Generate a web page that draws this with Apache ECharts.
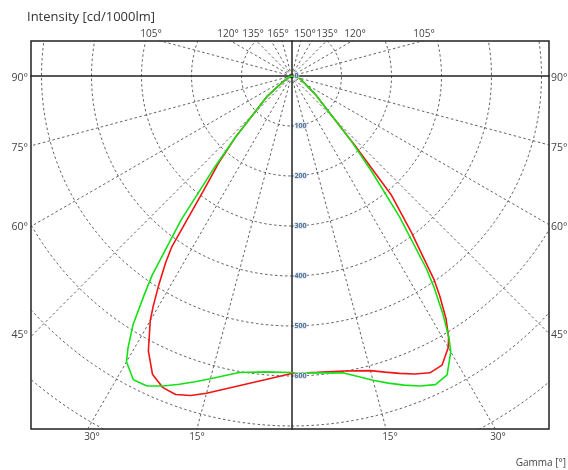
<!DOCTYPE html>
<html><head><meta charset="utf-8">
<script src="https://cdn.jsdelivr.net/npm/echarts@6/dist/echarts.min.js"></script>
<style>html,body{margin:0;padding:0;background:#fff}#c{width:568px;height:470px}</style>
</head><body><div id="c"></div>
<script>
// ---- data (gamma in degrees, intensity in cd/1000lm) ----
const gammaDeg   = [0, 5, 10, 15, 17.5, 20, 22.5, 25, 27.5, 30, 31, 32.5, 34, 35, 37.5, 40, 42.5, 45, 50, 52.5, 55, 60, 70, 80, 90];
const redLeft    = [595, 610, 630, 657, 670, 678, 674, 658, 620, 565, 537, 493, 450, 418, 290, 226, 166, 107, 65, 35, 20, 10, 5, 2, 0];
const redRight   = [595, 595, 599, 610, 621, 633, 645, 655, 652, 627, 610, 575, 530, 497, 393, 310, 185, 119, 72, 60, 45, 32, 20, 10, 0];
const greenLeft  = [593, 594, 602, 627, 641, 656, 671, 684, 685, 660, 635, 590, 525, 485, 362, 243, 166, 107, 65, 35, 20, 10, 5, 2, 0];
const greenRight = [593, 596, 603, 630, 644, 658, 671, 681, 674, 637, 612, 563, 510, 470, 355, 250, 178, 119, 72, 60, 45, 32, 20, 10, 0];

const ringValues   = [100, 200, 300, 400, 500, 600, 700, 800];
const ringLabelVal = [0, 100, 200, 300, 400, 500, 600];
const spokeStepDeg = 15;
const topLabels    = ['105°', '120°', '135°', '165°', '150°', '135°', '120°', '105°'];
const sideLabels   = ['90°', '75°', '60°', '45°'];
const bottomLabels = ['30°', '15°', '15°', '30°'];
const titleText    = 'Intensity [cd/1000lm]';
const xAxisName    = 'Gamma [°]';

// ---- layout (pixels) ----
const topLabelX = [151, 228, 253, 278, 305, 327, 355, 424];
const topLabelY = 34;
const sideLabelY = [78, 148, 227, 335];
const bottomLabelX = [92, 197, 390, 498];
const bottomLabelY = 437;

const FONT = '"Open Sans", "Noto Sans", sans-serif';
const rad = d => d * Math.PI / 180;

function curve(left, right) {
  const pts = [];
  for (let i = gammaDeg.length - 1; i >= 0; i--) {
    const g = rad(gammaDeg[i]);
    pts.push([-left[i] * Math.sin(g), -left[i] * Math.cos(g)]);
  }
  for (let i = 0; i < gammaDeg.length; i++) {
    const g = rad(gammaDeg[i]);
    pts.push([right[i] * Math.sin(g), -right[i] * Math.cos(g)]);
  }
  return pts;
}

const gridStyle = { color: '#3a3a3a', width: 0.8, type: [2.5, 2.5] };
const series = [];

ringValues.forEach(r => {
  const pts = [];
  for (let a = 0; a <= 360; a += 2) pts.push([r * Math.sin(rad(a)), -r * Math.cos(rad(a))]);
  series.push({ type: 'line', data: pts, symbol: 'none', silent: true, clip: true,
    lineStyle: gridStyle, z: 1 });
});
for (let a = 0; a < 360; a += spokeStepDeg) {
  if (a % 90 === 0) continue;
  const L = 1500;
  series.push({ type: 'line', data: [[0, 0], [L * Math.sin(rad(a)), -L * Math.cos(rad(a))]],
    symbol: 'none', silent: true, clip: true, lineStyle: gridStyle, z: 1 });
}

series.push({ type: 'line', name: 'red', data: curve(redLeft, redRight), symbol: 'none',
  clip: true, lineStyle: { color: '#f21414', width: 1.6 }, z: 5 });
series.push({ type: 'line', name: 'green', data: curve(greenLeft, greenRight), symbol: 'none',
  clip: true, lineStyle: { color: '#16e016', width: 1.6 }, z: 6 });

series.push({ type: 'scatter', data: ringLabelVal.map(v => [0, -v]), symbolSize: 0, silent: true, z: 10,
  label: { show: true, position: 'right', distance: 3, formatter: p => String(-p.value[1]),
    fontSize: 7, fontWeight: 'bold', color: '#33507a', fontFamily: FONT,
    textBorderColor: '#dbe7f3', textBorderWidth: 2 } });

const graphic = [];
const txt = (x, y, text, align, size, color) => ({ type: 'text', x, y,
  style: { text, fontSize: size, fill: color, fontFamily: FONT, align, verticalAlign: 'middle' } });

graphic.push(txt(27, 17, titleText, 'left', 13, '#333'));
graphic.push(txt(566, 463, xAxisName, 'right', 10, '#444'));
topLabels.forEach((t, i) => graphic.push(txt(topLabelX[i], topLabelY, t, 'center', 10, '#444')));
sideLabels.forEach((t, i) => {
  graphic.push(txt(28, sideLabelY[i], t, 'right', 10.5, '#444'));
  graphic.push(txt(551, sideLabelY[i], t, 'left', 10.5, '#444'));
});
bottomLabels.forEach((t, i) => graphic.push(txt(bottomLabelX[i], bottomLabelY, t, 'center', 10, '#444')));

const chart = echarts.init(document.getElementById('c'), null, { renderer: 'canvas' });
chart.setOption({
  animation: false,
  backgroundColor: '#fff',
  grid: { left: 31, top: 41, right: 19, bottom: 41, show: true, borderColor: '#222', borderWidth: 1.5, containLabel: false },
  xAxis: { type: 'value', min: -521, max: 515,
    axisLine: { show: true, onZero: true, lineStyle: { color: '#222', width: 1.5 } },
    axisTick: { show: false }, axisLabel: { show: false }, splitLine: { show: false }, z: 4 },
  yAxis: { type: 'value', min: -706, max: 70,
    axisLine: { show: true, onZero: true, lineStyle: { color: '#222', width: 1.5 } },
    axisTick: { show: false }, axisLabel: { show: false }, splitLine: { show: false }, z: 4 },
  series,
  graphic
});
</script></body></html>
